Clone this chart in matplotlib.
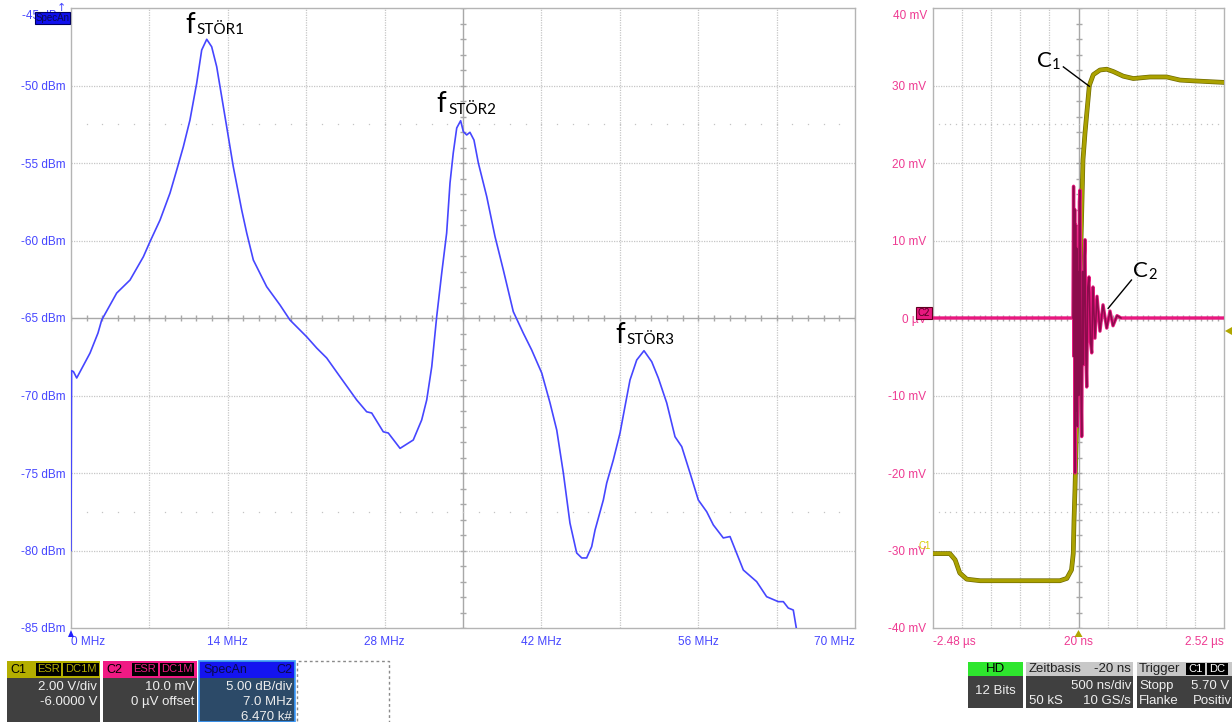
import numpy as np
import matplotlib
matplotlib.use("Agg")
import matplotlib.pyplot as plt
from matplotlib.patches import Rectangle, Polygon
import matplotlib.patheffects as pe

W, H = 1232, 722

# spectrum of C2 (SpecAn), MHz / dBm
spec_freq = [0.0, 0.05, 0.22, 0.51, 1.70, 2.41, 2.74, 4.08, 5.27, 6.46, 7.05, 7.95, 8.84, 9.44,
             10.03, 10.62, 11.22, 11.67, 12.12, 12.56, 13.01, 13.90, 14.49, 15.24, 15.69, 16.28,
             17.47, 18.66, 19.55, 21.04, 21.94, 22.83, 24.02, 25.51, 26.40, 26.85, 27.88, 28.33,
             29.38, 30.56, 31.31, 31.76, 32.21, 32.65, 33.10, 33.54, 33.84, 34.13, 34.44, 34.79,
             35.03, 35.33, 35.62, 35.98, 36.37, 37.12, 37.86, 38.60, 39.49, 40.38, 41.13, 42.03,
             42.77, 43.37, 43.96, 44.55, 45.15, 45.60, 46.04, 46.49, 46.79, 47.53, 47.83, 48.42,
             49.02, 49.46, 49.91, 50.51, 51.16, 51.85, 52.44, 53.19, 53.93, 54.53, 55.27, 56.01,
             56.76, 57.35, 58.24, 58.84, 60.03, 61.22, 62.11, 63.15, 63.60, 64.04, 64.49, 64.79, 65.0]
spec_level = [-80.0, -68.4, -68.46, -68.87, -67.26, -65.97, -65.13, -63.39, -62.55, -61.05, -60.08,
              -58.68, -56.94, -55.45, -53.95, -52.23, -49.86, -47.71, -47.02, -47.50, -48.79, -52.66,
              -55.24, -58.03, -59.52, -61.26, -62.98, -64.16, -65.13, -66.21, -66.94, -67.58, -68.79,
              -70.29, -71.05, -71.13, -72.34, -72.42, -73.41, -72.87, -71.58, -70.29, -68.14, -64.92,
              -62.10, -59.52, -56.29, -54.35, -52.74, -52.27, -52.98, -53.19, -53.02, -53.52, -55.0,
              -57.17, -59.75, -61.90, -64.59, -65.97, -67.06, -68.55, -70.48, -72.23, -75.0, -78.23,
              -80.16, -80.48, -80.48, -79.75, -78.68, -76.74, -75.65, -74.16, -72.42, -70.72, -69.0,
              -67.71, -67.11, -67.82, -68.87, -70.48, -72.66, -73.30, -75.0, -76.74, -77.50, -78.35,
              -79.19, -79.10, -81.26, -82.01, -82.98, -83.30, -83.30, -83.71, -83.84, -85.13, -86.5]

# time traces, us / mV
c1_time = [-2.48, -2.19, -2.10, -2.02, -1.90, -1.67, -0.30, -0.18, -0.10, -0.07, -0.057, -0.04,
           0.097, 0.132, 0.206, 0.274, 0.389, 0.505, 0.618, 0.790, 0.962, 1.249, 1.535, 1.764, 1.992, 2.52]
c1_volt = [-30.4, -30.4, -31.2, -32.9, -33.7, -33.9, -33.9, -33.6, -32.5, -30.4, -26.1, -22.0,
           20.4, 23.9, 30.0, 31.4, 32.0, 32.1, 31.8, 31.2, 30.9, 31.1, 31.1, 30.7, 30.6, 30.4]

c2_time = [-2.48, -0.075, -0.065, -0.055, -0.045, -0.040, -0.030, -0.020, -0.010, 0.000, 0.012,
           0.025, 0.035, 0.046, 0.060, 0.075, 0.090, 0.105, 0.120, 0.132, 0.147, 0.161, 0.180,
           0.200, 0.225, 0.247, 0.269, 0.303, 0.338, 0.389, 0.441, 0.505, 0.561, 0.613, 0.682, 0.750, 2.52]
c2_volt = [0.0, 0.0, 17.0, -5.0, 14.0, -20.0, 12.0, -12.0, 9.0, -14.0, 6.0, -10.0, 15.0, 16.5,
           -8.0, -15.3, 6.0, -6.0, 8.0, 10.1, -5.0, -8.9, 4.0, 5.3, -3.0, -4.5, 4.0, -2.6, 2.8,
           -1.7, 1.7, -1.3, 0.9, -1.0, 0.3, 0.0, 0.0]

freq_ticks = [0, 14, 28, 42, 56, 70]
freq_labels = ["0 MHz", "14 MHz", "28 MHz", "42 MHz", "56 MHz", "70 MHz"]
level_ticks = [-45, -50, -55, -60, -65, -70, -75, -80, -85]
level_labels = ["-45 dBm", "-50 dBm", "-55 dBm", "-60 dBm", "-65 dBm", "-70 dBm", "-75 dBm", "-80 dBm", "-85 dBm"]
time_ticks = [-2.48, 0.02, 2.52]
time_labels = ["-2.48 µs", "20 ns", "2.52 µs"]
volt_ticks = [40, 30, 20, 10, 0, -10, -20, -30, -40]
volt_labels = ["40 mV", "30 mV", "20 mV", "10 mV", "0 µV", "-10 mV", "-20 mV", "-30 mV", "-40 mV"]

peak_names = ["STÖR1", "STÖR2", "STÖR3"]

BLUE = "#4646ff"
PINK = "#ee3a92"
GRID = "#c6c6c6"
CENTER = "#a8a8a8"
UI = "Liberation Sans"

fig = plt.figure(figsize=(W / 100, H / 100), dpi=100)
fig.patch.set_facecolor("white")


def px_rect(x0, y0, x1, y1, fc, ec="none", lw=0, ls="-", z=5):
    fig.add_artist(Rectangle((x0 / W, 1 - y1 / H), (x1 - x0) / W, (y1 - y0) / H,
                             transform=fig.transFigure, fc=fc, ec=ec, lw=lw, ls=ls, zorder=z))


def px_text(x, y, s, **kw):
    kw.setdefault("family", UI)
    kw.setdefault("va", "center")
    fig.text(x / W, 1 - y / H, s, zorder=10, **kw)


def scope_grid(ax, xlim, ylim, xstep, ystep, xc, yc):
    x0, x1 = xlim
    y0, y1 = ylim
    for x in np.arange(x0 + xstep, x1 - xstep / 2, xstep):
        if abs(x - xc) < 1e-6:
            ax.axvline(x, color=CENTER, lw=1, zorder=1)
        else:
            ax.axvline(x, color=GRID, lw=0.9, ls=(0, (1, 1)), zorder=1)
    for y in np.arange(y0 + ystep, y1 - ystep / 2, ystep):
        if abs(y - yc) < 1e-6:
            ax.axhline(y, color=CENTER, lw=1, zorder=1)
        else:
            ax.axhline(y, color=GRID, lw=0.9, ls=(0, (1, 1)), zorder=1)
    # small ticks on the centre cross
    xs = np.arange(x0, x1 + xstep / 10, xstep / 5)
    ys = np.arange(y0, y1 + ystep / 10, ystep / 5)
    ax.plot(xs, np.full(len(xs), yc), ls="none", marker="|", ms=5, mew=1, color=CENTER, zorder=1)
    ax.plot(np.full(len(ys), xc), ys, ls="none", marker="_", ms=5, mew=1, color=CENTER, zorder=1)
    # sparse dotted rows at 1.5 div from top and bottom
    for y in (y1 - 1.5 * ystep, y0 + 1.5 * ystep):
        ax.plot(xs[1:-1], np.full(len(xs) - 2, y), ls="none", marker="s", ms=0.9, mew=0,
                color="#c4c4c4", zorder=1)
    ax.set_xlim(x0, x1)
    ax.set_ylim(y0, y1)
    for s in ax.spines.values():
        s.set_color("#b4b4b4")
        s.set_linewidth(1)


def sub_label(ax, x, y, big, small, bigsize, smallsize, dx):
    ax.text(x, y, big, fontsize=bigsize, family="Lato", color="black", va="baseline", zorder=6)
    ax.annotate(small, xy=(x, y), xytext=(dx, -1.2), textcoords="offset points", fontsize=smallsize,
                family="Lato", color="black", va="baseline", zorder=6)


# ---- spectrum panel ----
ax1 = fig.add_axes([71 / W, 1 - 628 / H, 784 / W, 620 / H])
scope_grid(ax1, (0, 70), (-85, -45), 7, 5, 35, -65)
ax1.plot(spec_freq, spec_level, color=BLUE, lw=1.2, zorder=3)
ax1.set_xticks(freq_ticks, freq_labels)
ax1.set_yticks(level_ticks[1:], level_labels[1:])
ax1.tick_params(length=0, labelsize=8.5, pad=5)
ax1.tick_params(axis="x", labelcolor=BLUE, pad=6)
ax1.tick_params(axis="y", labelcolor=BLUE, pad=4)
for lab in ax1.get_xticklabels() + ax1.get_yticklabels():
    lab.set_family(UI)
xl = ax1.get_xticklabels()
xl[0].set_ha("left")
xl[-1].set_ha("right")
ax1.annotate(level_labels[0], xy=(0, level_ticks[0]), xytext=(-3, -6), textcoords="offset points",
             ha="right", va="center", color=BLUE, fontsize=8.5, family=UI, annotation_clip=False)

# peak labels f_STÖRx
peak_pos = [(10.2, -46.6), (32.65, -51.7), (48.57, -66.6)]
for (x, y), name in zip(peak_pos, peak_names):
    sub_label(ax1, x, y, "f", name, 20, 11, 8.2)

# ---- time panel ----
ax2 = fig.add_axes([933 / W, 1 - 628 / H, 291 / W, 620 / H])
scope_grid(ax2, (-2.48, 2.52), (-40, 40), 0.5, 10, 0.02, 0)
ax2.plot(c1_time, c1_volt, color="#aba200", lw=2.4, zorder=3,
         path_effects=[pe.Stroke(linewidth=3.4, foreground="#6f6a00"), pe.Normal()])
c2t = np.array(c2_time)
c2v = np.array(c2_volt)
ax2.plot(c2t, c2v, color="#e8187f", lw=2.4, zorder=4)
ring = (c2t > -0.1) & (c2t < 0.8)
ax2.plot(c2t[ring], c2v[ring], color="#8c0c4c", lw=1.1, zorder=5)
ax2.set_xticks(time_ticks, time_labels)
ax2.set_yticks(volt_ticks[1:], volt_labels[1:])
ax2.tick_params(length=0, labelsize=8.5)
ax2.tick_params(axis="x", labelcolor=PINK, pad=6)
ax2.tick_params(axis="y", labelcolor=PINK, pad=5)
for lab in ax2.get_xticklabels() + ax2.get_yticklabels():
    lab.set_family(UI)
tl = ax2.get_xticklabels()
tl[0].set_ha("left")
tl[-1].set_ha("right")
ax2.annotate(volt_labels[0], xy=(-2.48, volt_ticks[0]), xytext=(-4, -6), textcoords="offset points",
             ha="right", va="center", color=PINK, fontsize=8.5, family=UI, annotation_clip=False)

# C1 / C2 callouts
sub_label(ax2, -0.70, 32.4, "C", "1", 16, 10.5, 11)
ax2.plot([-0.24, 0.206], [32.4, 29.9], color="black", lw=1, zorder=6)
sub_label(ax2, 0.96, 5.3, "C", "2", 16, 10.5, 11)
ax2.plot([0.93, 0.53], [4.9, 1.25], color="black", lw=1, zorder=6)

# ---- scope decorations ----
# SpecAn badge top left
px_rect(35, 12, 70, 24, "#1010ee", ec="#000060", lw=0.8, z=8)
px_text(52.5, 18, "SpecAn", color="#0a0a50", fontsize=7, ha="center")
px_text(61, 8, "↑", color=BLUE, fontsize=8, ha="center", family="DejaVu Sans")
fig.add_artist(Polygon([(68 / W, 1 - 637 / H), (74 / W, 1 - 637 / H), (71 / W, 1 - 630 / H)],
                       transform=fig.transFigure, fc="#2020ff", ec="none", zorder=8))
# C2 marker on left of time panel
px_rect(916, 307, 932, 319, "#e8187f", ec="#600020", lw=0.8, z=8)
px_text(924, 313, "C2", color="#500020", fontsize=7, ha="center")
px_text(925, 546, "C1", color="#d8cc00", fontsize=7, ha="center")
fig.add_artist(Polygon([(1225 / W, 1 - 331 / H), (1232 / W, 1 - 327 / H), (1232 / W, 1 - 335 / H)],
                       transform=fig.transFigure, fc="#b0a600", ec="none", zorder=8))
fig.add_artist(Polygon([(1074.5 / W, 1 - 637 / H), (1082.5 / W, 1 - 637 / H), (1078.5 / W, 1 - 630 / H)],
                       transform=fig.transFigure, fc="#b0a600", ec="none", zorder=8))

# ---- status bar ----
DARK = "#404040"
# C1
px_rect(7, 678, 100, 722, DARK)
px_rect(7, 661, 100, 678, "#b4ae00")
px_text(10, 670, "C1", color="black", fontsize=9)
px_rect(36, 663, 61, 676, "black", z=6)
px_text(48.5, 669.5, "ESR", color="#b4ae00", fontsize=8, ha="center")
px_rect(63, 663, 99, 676, "black", z=6)
px_text(81, 669.5, "DC1M", color="#b4ae00", fontsize=8, ha="center")
px_text(97, 687, "2.00 V/div", color="#eeeeee", fontsize=9.5, ha="right")
px_text(97, 702, "-6.0000 V", color="#eeeeee", fontsize=9.5, ha="right")
# C2
px_rect(103, 678, 197, 722, DARK)
px_rect(103, 661, 197, 678, "#f01a84")
px_text(106, 670, "C2", color="black", fontsize=9)
px_rect(132, 663, 158, 676, "black", z=6)
px_text(145, 669.5, "ESR", color="#f01a84", fontsize=8, ha="center")
px_rect(160, 663, 194, 676, "black", z=6)
px_text(177, 669.5, "DC1M", color="#f01a84", fontsize=8, ha="center")
px_text(194, 687, "10.0 mV", color="#eeeeee", fontsize=9.5, ha="right")
px_text(194, 702, "0 µV offset", color="#eeeeee", fontsize=9.5, ha="right")
# SpecAn
px_rect(199, 661, 295, 722, "#2c4a68", ec="#3c9cff", lw=1.2)
px_rect(200, 662, 294, 678, "#1414f0", z=6)
px_text(203, 670, "SpecAn", color="#0a0a48", fontsize=9)
px_text(292, 670, "C2", color="#0a0a48", fontsize=9, ha="right")
px_text(292, 687, "5.00 dB/div", color="#eeeeee", fontsize=9.5, ha="right")
px_text(292, 702, "7.0 MHz", color="#eeeeee", fontsize=9.5, ha="right")
px_text(292, 717, "6.470 k#", color="#eeeeee", fontsize=9.5, ha="right")
# empty slot
px_rect(297, 661, 389, 725, "none", ec="#8a8a8a", lw=1, ls=(0, (2, 2)))

# HD
px_rect(968, 676, 1023, 708, DARK)
px_rect(968, 662, 1023, 676, "#2ee62e")
px_text(995.5, 669, "HD", color="black", fontsize=9.5, ha="center")
px_text(995.5, 691, "12 Bits", color="#eeeeee", fontsize=9.5, ha="center")
# Zeitbasis
px_rect(1026, 676, 1133, 708, DARK)
px_rect(1026, 662, 1133, 676, "#c8c8c8")
px_text(1029, 669, "Zeitbasis", color="#202020", fontsize=9.5)
px_text(1131, 669, "-20 ns", color="#202020", fontsize=9.5, ha="right")
px_text(1131, 686, "500 ns/div", color="#eeeeee", fontsize=9.5, ha="right")
px_text(1029, 701, "50 kS", color="#eeeeee", fontsize=9.5)
px_text(1131, 701, "10 GS/s", color="#eeeeee", fontsize=9.5, ha="right")
# Trigger
px_rect(1137, 676, 1232, 708, DARK)
px_rect(1137, 662, 1232, 676, "#c8c8c8")
px_text(1139, 669, "Trigger", color="#202020", fontsize=9.5)
px_rect(1186, 663, 1205, 675, "black", z=6)
px_text(1195.5, 669, "C1", color="white", fontsize=8, ha="center")
px_rect(1207, 663, 1228, 675, "black", z=6)
px_text(1217.5, 669, "DC", color="white", fontsize=8, ha="center")
px_text(1139, 686, "Stopp", color="#eeeeee", fontsize=9.5)
px_text(1229, 686, "5.70 V", color="#eeeeee", fontsize=9.5, ha="right")
px_text(1139, 701, "Flanke", color="#eeeeee", fontsize=9.5)
px_text(1232, 701, "Positiv", color="#eeeeee", fontsize=9.5, ha="right")

fig.savefig("out.png", dpi=100, facecolor="white")
